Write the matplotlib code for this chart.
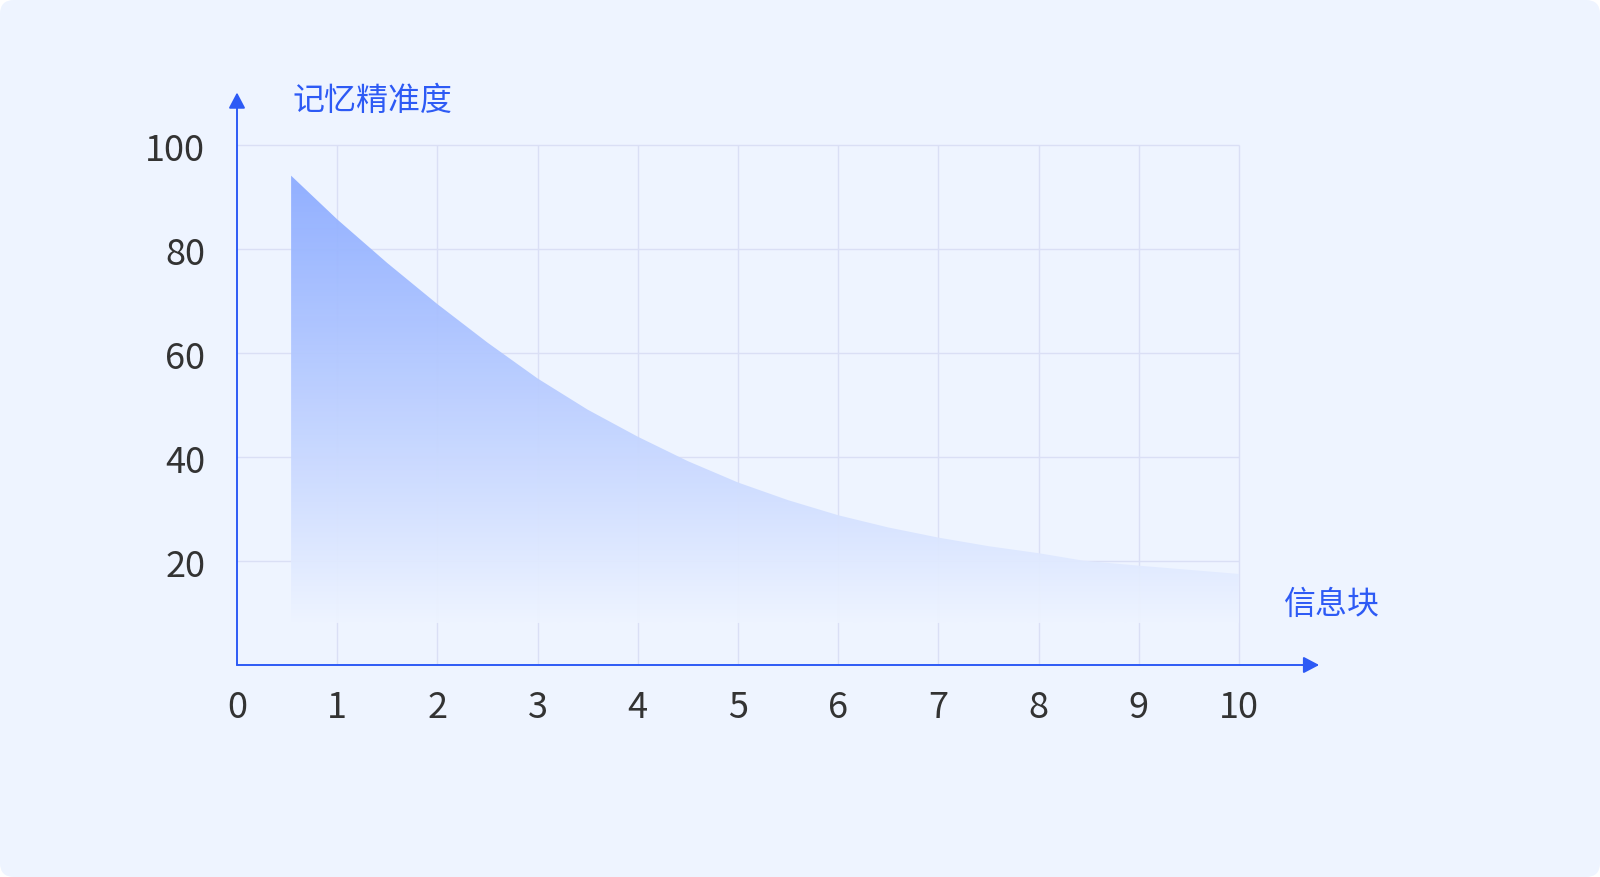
import numpy as np
import matplotlib
matplotlib.use('Agg')
from matplotlib import pyplot as plt
from matplotlib.patches import FancyBboxPatch, Polygon
from matplotlib.transforms import ScaledTranslation

plt.rcParams['font.family'] = ['Noto Sans CJK SC', 'DejaVu Sans']

# values
mem_x = [0.54, 1, 1.5, 2, 2.5, 3, 3.5, 4, 4.5, 5, 5.5, 6, 6.5, 7, 7.5, 8, 8.45, 9, 10]
mem_y = [94.1, 85.7, 77.3, 69.4, 62.0, 55.1, 49.1, 43.9, 39.2, 35.1, 31.7, 28.8,
         26.45, 24.5, 22.85, 21.5, 20.05, 19.1, 17.5]
area_floor = 8.1
x_ticks = list(range(0, 11))
y_ticks = [20, 40, 60, 80, 100]
y_title = '记忆精准度'
x_title = '信息块'

BG = '#EEF4FF'
BLUE = '#2D5AF5'
GRID = '#DADFF5'
TOP = np.array([0x8A, 0xAA, 0xFF]) / 255.
BOT = np.array([0xEE, 0xF4, 0xFF]) / 255.

W, H = 1600, 877
fig = plt.figure(figsize=(W / 100, H / 100), dpi=100, facecolor='white')

# rounded card behind everything
bg_ax = fig.add_axes([0, 0, 1, 1])
bg_ax.set_xlim(0, W)
bg_ax.set_ylim(0, H)
bg_ax.axis('off')
bg_ax.add_patch(FancyBboxPatch((0, 0), W, H, boxstyle='round,pad=0,rounding_size=14',
                               fc=BG, ec='none'))

px_x, px_y = 100.2, 5.2   # pixels per data unit
xmax, ymax = 10.8, 110.1
ax = fig.add_axes([237 / W, 212 / H, xmax * px_x / W, ymax * px_y / H])
ax.set_facecolor('none')
for s in ax.spines.values():
    s.set_visible(False)

# grid
ax.vlines(x_ticks[1:], 0, y_ticks[-1], color=GRID, lw=1.0, zorder=1)
ax.hlines(y_ticks, 0, x_ticks[-1], color=GRID, lw=1.0, zorder=1)

# gradient area
n = 256
grad = np.zeros((n, 1, 4))
t = np.linspace(0, 1, n)[:, None]
grad[:, 0, :3] = TOP * (1 - t) + BOT * t
grad[:, 0, 3] = 0.92 + 0.08 * t[:, 0]
im = ax.imshow(grad, extent=[mem_x[0], mem_x[-1], area_floor, max(mem_y)],
               origin='upper', aspect='auto', interpolation='bilinear', zorder=2)
verts = list(zip(mem_x, mem_y)) + [(mem_x[-1], area_floor), (mem_x[0], area_floor)]
clip = Polygon(verts, closed=True, transform=ax.transData, fc='none', ec='none')
ax.add_patch(clip)
im.set_clip_path(clip)

# axes with arrow heads
arrow = dict(arrowstyle='-|>,head_length=0.95,head_width=0.5', color=BLUE, lw=1.4,
             mutation_scale=10, shrinkA=0, shrinkB=0)
ax.annotate('', xy=(xmax, 0), xytext=(0, 0), arrowprops=arrow, zorder=3,
            annotation_clip=False)
ax.annotate('', xy=(0, ymax), xytext=(0, 0), arrowprops=arrow, zorder=3,
            annotation_clip=False)

ax.set_xlim(0, xmax)
ax.set_ylim(0, ymax)
ax.set_xticks(x_ticks)
ax.set_yticks(y_ticks)
ax.tick_params(length=0, labelsize=26, labelcolor='#333333')
ax.tick_params(axis='x', pad=18)
ax.tick_params(axis='y', pad=23)
shift = ScaledTranslation(0, -1.5 / 72, fig.dpi_scale_trans)
for lab in ax.get_yticklabels():
    lab.set_transform(lab.get_transform() + shift)

ax.text(0.55, 108.5, y_title, color=BLUE, fontsize=23, ha='left', va='center')
ax.text(10.45, 11.5, x_title, color=BLUE, fontsize=23, ha='left', va='center')

plt.savefig('out.png', dpi=100, facecolor='white')
plt.close(fig)
